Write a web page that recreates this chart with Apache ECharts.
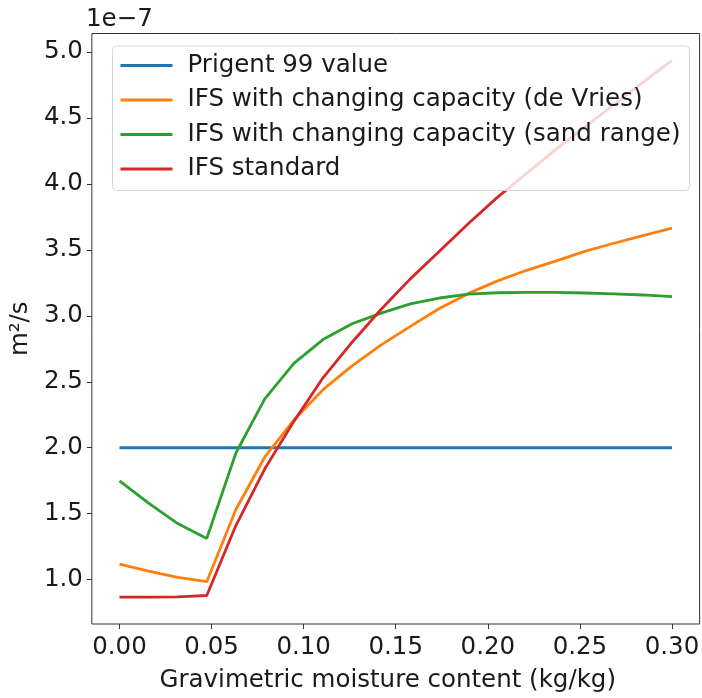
<!DOCTYPE html>
<html>
<head>
<meta charset="utf-8">
<script src="https://cdn.jsdelivr.net/npm/echarts@6/dist/echarts.min.js"></script>
<style>
  html, body { margin: 0; padding: 0; background: #fff; }
  #chart { width: 702px; height: 698px; }
</style>
</head>
<body>
<div id="chart"></div>
<script>
// Gravimetric moisture content (kg/kg)
const moisture = [0, 0.0158, 0.0316, 0.0474, 0.0632, 0.0789, 0.0947, 0.1105, 0.1263, 0.1421,
                  0.1579, 0.1737, 0.1895, 0.2053, 0.2211, 0.2368, 0.2526, 0.2684, 0.2842, 0.3];

// Thermal diffusivity, in units of 1e-7 m²/s
const prigent99 = [2.0, 2.0, 2.0, 2.0, 2.0, 2.0, 2.0, 2.0, 2.0, 2.0,
                   2.0, 2.0, 2.0, 2.0, 2.0, 2.0, 2.0, 2.0, 2.0, 2.0];
const ifsDeVries = [1.117, 1.065, 1.017, 0.985, 1.532, 1.93, 2.21, 2.44, 2.62, 2.78,
                    2.92, 3.055, 3.17, 3.265, 3.345, 3.415, 3.488, 3.55, 3.608, 3.665];
const ifsSand = [1.749, 1.58, 1.425, 1.313, 1.96, 2.37, 2.64, 2.82, 2.94, 3.02,
                 3.09, 3.135, 3.165, 3.175, 3.178, 3.177, 3.173, 3.167, 3.158, 3.145];
const ifsStandard = [0.868, 0.868, 0.870, 0.880, 1.41, 1.84, 2.20, 2.53, 2.80, 3.05,
                     3.28, 3.49, 3.70, 3.90, 4.08, 4.26, 4.43, 4.60, 4.77, 4.937];

const seriesNames = ['Prigent 99 value', 'IFS with changing capacity (de Vries)',
                     'IFS with changing capacity (sand range)', 'IFS standard'];
const seriesValues = [prigent99, ifsDeVries, ifsSand, ifsStandard];
const colors = ['#1f77b4', '#ff7f0e', '#2ca02c', '#d62728'];

const xTicks = [0, 0.05, 0.10, 0.15, 0.20, 0.25, 0.30];
const yTicks = [1.0, 1.5, 2.0, 2.5, 3.0, 3.5, 4.0, 4.5, 5.0];

const FONT = '"DejaVu Sans", sans-serif';
const FS = 24.5;
const INK = '#1a1a1a';
const SPINE = '#333';

const chart = echarts.init(document.getElementById('chart'), null, { renderer: 'canvas' });

chart.setOption({
  animation: false,
  backgroundColor: '#fff',
  color: colors,
  textStyle: { fontFamily: FONT },
  grid: {
    left: 86, right: 1.5, top: 33.5, bottom: 65,
    show: true, borderColor: SPINE, borderWidth: 1, backgroundColor: 'transparent'
  },
  legend: {
    orient: 'vertical',
    left: 112.5, top: 46,
    padding: [7, 9, 9, 8],
    itemWidth: 52, itemHeight: 3, itemGap: 9.5,
    icon: 'rect',
    backgroundColor: 'rgba(255,255,255,0.8)',
    borderColor: '#d6d6d6', borderWidth: 1, borderRadius: 4,
    textStyle: { fontFamily: FONT, fontSize: FS, color: INK, lineHeight: 25, padding: [0, 0, 0, 10] },
    data: seriesNames
  },
  xAxis: {
    type: 'value',
    min: -0.015, max: 0.315,
    axisLine: { show: false, onZero: false },
    splitLine: { show: false },
    axisTick: { show: true, customValues: xTicks, length: 5, lineStyle: { color: SPINE } },
    axisLabel: {
      customValues: xTicks, margin: 11,
      fontFamily: FONT, fontSize: FS, color: INK,
      formatter: v => v.toFixed(2)
    },
    name: 'Gravimetric moisture content (kg/kg)',
    nameLocation: 'middle', nameGap: 44,
    nameTextStyle: { fontFamily: FONT, fontSize: FS, color: INK, padding: [0, 16, 0, 0] }
  },
  yAxis: {
    type: 'value',
    min: 0.664, max: 5.14,
    axisLine: { show: false, onZero: false },
    splitLine: { show: false },
    axisTick: { show: true, customValues: yTicks, length: 5, lineStyle: { color: SPINE } },
    axisLabel: {
      customValues: yTicks, margin: 9,
      fontFamily: FONT, fontSize: FS, color: INK,
      formatter: v => v.toFixed(1)
    },
    name: 'm²/s',
    nameLocation: 'middle', nameGap: 43, nameRotate: 90,
    nameTextStyle: { fontFamily: FONT, fontSize: FS, color: INK }
  },
  graphic: [{
    type: 'text', left: 86, top: 7,
    style: { text: '1e\u22127', fontFamily: FONT, fontSize: FS, fill: INK }
  }],
  series: seriesNames.map((name, k) => ({
    name,
    type: 'line',
    data: moisture.map((x, i) => [x, seriesValues[k][i]]),
    showSymbol: false,
    symbol: 'none',
    lineStyle: { width: 2.8, color: colors[k] },
    itemStyle: { color: colors[k] },
    emphasis: { disabled: true }
  }))
});
</script>
</body>
</html>
